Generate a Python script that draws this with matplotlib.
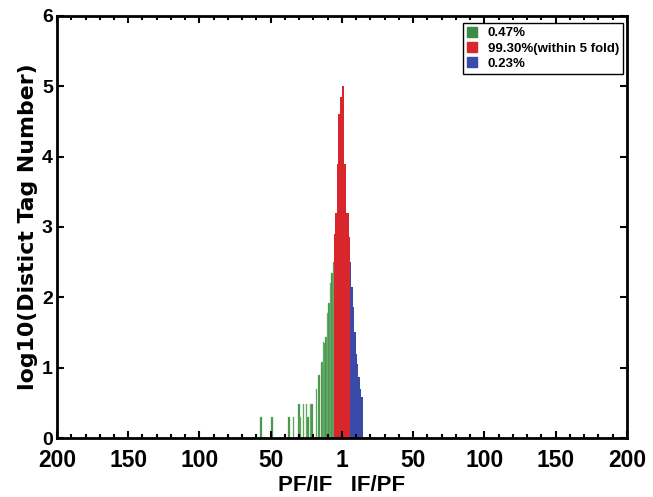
import matplotlib
matplotlib.use("Agg")
import matplotlib.pyplot as plt
from matplotlib.patches import Patch
from matplotlib.ticker import MultipleLocator

plt.rcParams['font.family'] = ['Liberation Sans', 'DejaVu Sans']
plt.rcParams['font.weight'] = 'bold'

# signed fold position (left = PF/IF, right = IF/PF), log10 of tag counts
green_x = [-57, -49, -37, -34, -30, -29, -27, -25, -24, -22, -21, -18, -16, -14, -13, -12,
           -11, -10, -9, -8, -7, -6]
green_h = [0.30, 0.30, 0.30, 0.30, 0.48, 0.30, 0.48, 0.48, 0.30, 0.48, 0.48, 0.70, 0.90, 1.08,
           1.37, 1.35, 1.44, 1.78, 1.92, 2.20, 2.35, 2.50]
red_x = [-5, -4, -3, -2, -1, 0, 1, 2, 3, 4, 5]
red_h = [2.90, 3.20, 3.90, 4.60, 4.85, 4.85, 5.00, 3.90, 3.20, 3.20, 2.86]
blue_x = [6, 7, 8, 9, 10, 11, 12, 13, 14]
blue_h = [2.50, 2.15, 1.86, 1.50, 1.20, 1.05, 0.87, 0.70, 0.58]

tick_pos = [-200, -150, -100, -50, 0, 50, 100, 150, 200]
tick_lab = ['200', '150', '100', '50', '1', '50', '100', '150', '200']
legend_lab = ['0.47%', '99.30%(within 5 fold)', '0.23%']

c_green = '#3d8b45'
c_red = '#d8262c'
c_blue = '#3a4aa8'

fig = plt.figure(figsize=(6.53, 4.97), dpi=100)
ax = fig.add_axes([0.0873, 0.1187, 0.8727, 0.8493])

ax.bar(green_x, green_h, width=1.1, color=c_green, edgecolor='#8fc58a', linewidth=0.3)
ax.bar(red_x, red_h, width=1.3, color=c_red, linewidth=0)
ax.bar(blue_x, blue_h, width=1.2, color=c_blue, linewidth=0)

ax.set_xlim(-200, 200)
ax.set_ylim(0, 6)
ax.set_xticks(tick_pos)
ax.set_xticklabels(tick_lab)
ax.xaxis.set_minor_locator(MultipleLocator(10))
ax.set_yticks(range(7))
ax.tick_params(axis='both', which='both', direction='in', top=True, right=True, width=1.5)
ax.tick_params(which='major', length=5)
ax.tick_params(which='minor', length=3)
ax.tick_params(axis='x', pad=8, labelsize=16.5)
ax.tick_params(axis='y', pad=3, labelsize=14)
for s in ax.spines.values():
    s.set_linewidth(2)

ax.set_ylabel('log10(Distict Tag Number)', fontsize=15.8, fontweight='bold', labelpad=3,
              family=['DejaVu Sans'])
ax.set_xlabel('PF/IF   IF/PF', fontsize=16, fontweight='bold', labelpad=2)

handles = [Patch(color=c) for c in (c_green, c_red, c_blue)]
leg = ax.legend(handles, legend_lab, loc='upper right', fancybox=False,
                edgecolor='black', framealpha=1, handlelength=0.75, handleheight=0.75,
                handletextpad=0.8, borderpad=0.3, labelspacing=0.2, borderaxespad=0,
                prop={'weight': 'bold', 'size': 9.5},
                bbox_to_anchor=(0.993, 0.983))
leg.get_frame().set_linewidth(1.0)

fig.savefig('out.png', dpi=100)
